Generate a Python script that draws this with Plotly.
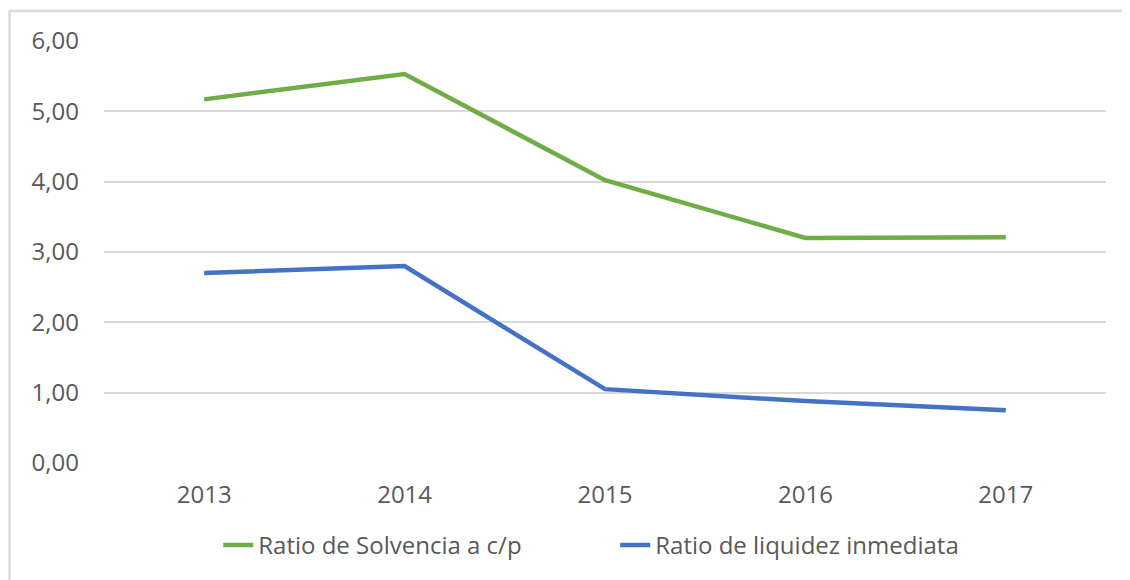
import plotly.graph_objects as go

years = ["2013", "2014", "2015", "2016", "2017"]
solvencia = [5.17, 5.53, 4.02, 3.20, 3.21]
liquidez = [2.70, 2.80, 1.05, 0.88, 0.75]
y_ticks = [0, 1, 2, 3, 4, 5, 6]

fig = go.Figure()
fig.add_trace(go.Scatter(x=years, y=solvencia, mode="lines", name="Ratio de Solvencia a c/p",
                         line=dict(color="#70AD47", width=4.5)))
fig.add_trace(go.Scatter(x=years, y=liquidez, mode="lines", name="Ratio de liquidez inmediata",
                         line=dict(color="#4472C4", width=4.5)))

font_main = dict(family="Open Sans", size=24, color="#595959")

fig.update_layout(
    width=1122, height=572,
    margin=dict(l=96, r=24, t=33, b=115),
    paper_bgcolor="white", plot_bgcolor="white",
    separators=", ",
    showlegend=True,
    legend=dict(orientation="h", x=0.114, xanchor="left", y=-0.195, yanchor="middle",
                font=font_main, itemwidth=30, entrywidth=352, bgcolor="rgba(0,0,0,0)"),
    xaxis=dict(type="category", showgrid=False, zeroline=False, showline=False,
               tickfont=font_main, ticklabelstandoff=15, range=[-0.5, 4.5]),
    yaxis=dict(range=[0, 6], tickvals=y_ticks, tickformat=".2f", showgrid=True,
               gridcolor="#D9D9D9", gridwidth=1.5, zeroline=False, showline=False,
               tickfont=font_main, ticklabelstandoff=24),
    shapes=[dict(type="rect", xref="paper", yref="paper", x0=-0.0943, x1=1.2,
                 y0=-0.5, y1=1.0708, line=dict(color="#D9D9D9", width=2.5),
                 fillcolor="rgba(0,0,0,0)", layer="below")],
)

fig.write_html("out.html")
